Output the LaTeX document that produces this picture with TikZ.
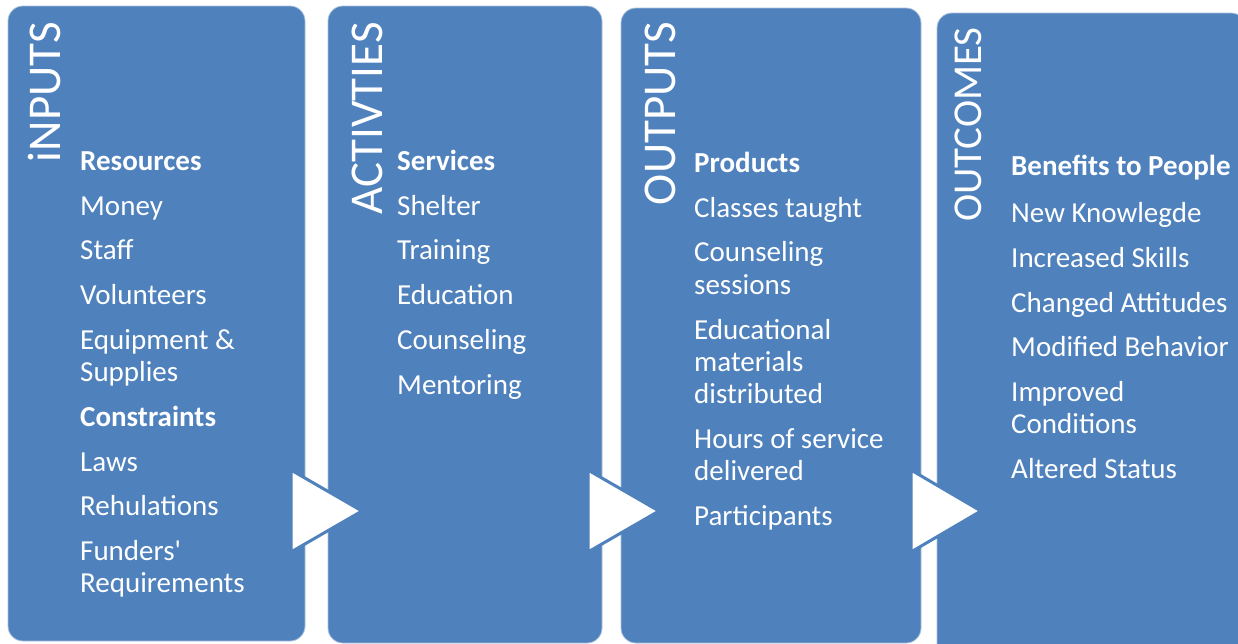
\documentclass[tikz,border=0pt]{standalone}
\usepackage{fontspec}
\setmainfont{Carlito}
\definecolor{boxblue}{HTML}{4F81BD}
\definecolor{boxedge}{HTML}{A9C0DE}
\tikzset{
  stage/.style={fill=boxblue, draw=boxedge, line width=0.8pt, rounded corners=15pt},
  title/.style={rotate=90, anchor=base east, inner sep=0pt, text=white, font=\fontsize{47}{50}\selectfont},
  item/.style={anchor=base west, inner sep=0pt, text=white, font=\fontsize{29}{32}\selectfont},
  head/.style={item, font=\fontsize{29}{32}\selectfont\bfseries},
  flowtri/.style={fill=white, draw=boxblue, line width=3pt, line join=miter}
}
\begin{document}
\begin{tikzpicture}[x=1pt, y=-1pt]
\useasboundingbox (0,0) rectangle (1238,643);
\clip (0,0) rectangle (1238,643);
% boxes
\draw[stage] (8,6) rectangle (305,641);
\draw[stage] (328,6) rectangle (602,643);
\draw[stage] (621,8) rectangle (921,643);
\draw[stage] (937,13) rectangle (1246,700);
% triangles
\draw[flowtri] (291,470) -- (362,511) -- (291,552) -- cycle;
\draw[flowtri] (588,470) -- (659,511) -- (588,552) -- cycle;
\draw[flowtri] (911,470) -- (981,511) -- (911,552) -- cycle;
% titles
\node[title] (t1) at (60,22) {iNPUTS};
\node[title] (t2) at (382,22) {ACTIVTIES};
\node[title] (t3) at (675,22) {OUTPUTS};
\node[title, font=\fontsize{41}{44}\selectfont] (t4) at (981,27) {OUTCOMES};
% box 1
\node[head] (a1) at (80,170) {Resources};
\node[item] (a2) at (80,215) {Money};
\node[item] (a3) at (80,259) {Staff};
\node[item] (a4) at (80,304) {Volunteers};
\node[item] (a5) at (80,349) {Equipment \&};
\node[item] (a6) at (80,381) {Supplies};
\node[head] (a7) at (80,426) {Constraints};
\node[item] (a8) at (80,471) {Laws};
\node[item] (a9) at (80,515) {Rehulations};
\node[item] (a10) at (80,560) {Funders\textquotesingle};
\node[item] (a11) at (80,592) {Requirements};
% box 2
\node[head] (b1) at (397,170) {Services};
\node[item] (b2) at (397,215) {Shelter};
\node[item] (b3) at (397,259) {Training};
\node[item] (b4) at (397,304) {Education};
\node[item] (b5) at (397,349) {Counseling};
\node[item] (b6) at (397,394) {Mentoring};
% box 3
\node[head] (c1) at (694,172) {Products};
\node[item] (c2) at (694,217) {Classes taught};
\node[item] (c3) at (694,261) {Counseling};
\node[item] (c4) at (694,294) {sessions};
\node[item] (c5) at (694,339) {Educational};
\node[item] (c6) at (694,371) {materials};
\node[item] (c7) at (694,403) {distributed};
\node[item] (c8) at (694,448) {Hours of service};
\node[item] (c9) at (694,480) {delivered};
\node[item] (c10) at (694,525) {Participants};
% box 4
\node[head] (d1) at (1011,175) {Benefits to People};
\node[item] (d2) at (1011,222) {New Knowlegde};
\node[item] (d3) at (1011,267) {Increased Skills};
\node[item] (d4) at (1011,312) {Changed Attitudes};
\node[item] (d5) at (1011,356) {Modified Behavior};
\node[item] (d6) at (1011,401) {Improved};
\node[item] (d7) at (1011,433) {Conditions};
\node[item] (d8) at (1011,478) {Altered Status};
\end{tikzpicture}
\end{document}
